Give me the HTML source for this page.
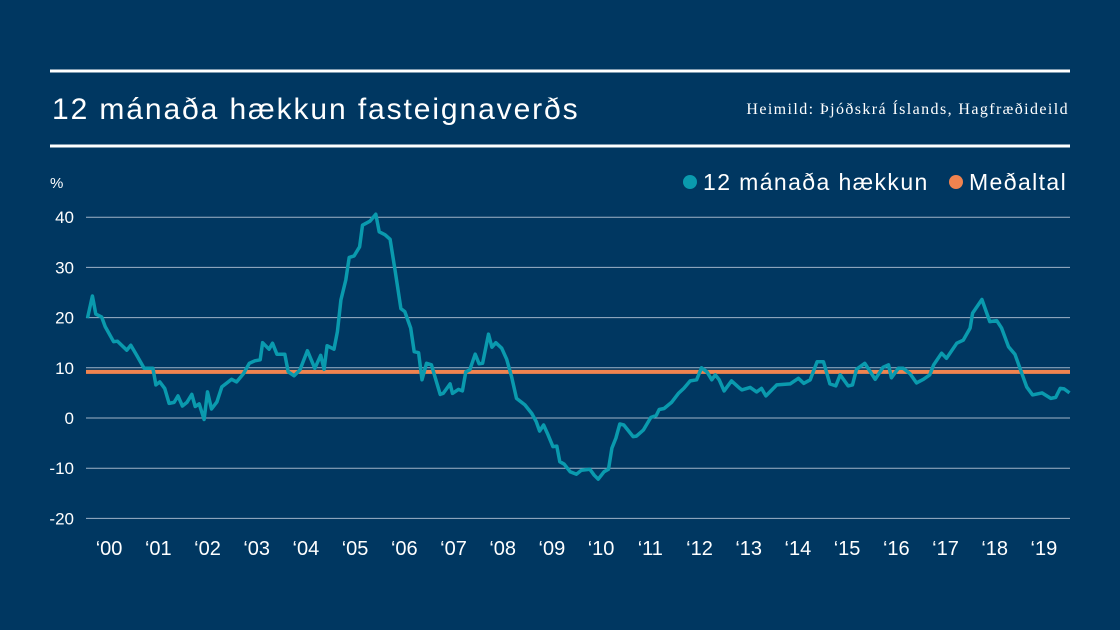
<!DOCTYPE html>
<html><head><meta charset="utf-8"><style>
html,body{margin:0;padding:0;background:#003761;}
svg{display:block}
</style></head><body>
<svg width="1120" height="630" viewBox="0 0 1120 630" font-family="'Liberation Sans', sans-serif">
<rect x="0" y="0" width="1120" height="630" fill="#003761"/>
<line x1="50" y1="71" x2="1070" y2="71" stroke="#fff" stroke-width="3"/>
<line x1="50" y1="146" x2="1070" y2="146" stroke="#fff" stroke-width="3"/>
<text x="52" y="119" fill="#fff" font-size="30" letter-spacing="1.9">12 mánaða hækkun fasteignaverðs</text>
<text x="1069" y="114" fill="#fff" font-size="16" letter-spacing="1.4" text-anchor="end" font-family="'Liberation Serif', serif">Heimild: Þjóðskrá Íslands, Hagfræðideild</text>
<text x="50" y="188" fill="#fff" font-size="15">%</text>
<g>
<circle cx="690" cy="182" r="7" fill="#0a9aae"/>
<text x="703" y="190" fill="#fff" font-size="23" letter-spacing="1.4">12 mánaða hækkun</text>
<circle cx="956" cy="182" r="7" fill="#f0834f"/>
<text x="969" y="190" fill="#fff" font-size="23" letter-spacing="1.4">Meðaltal</text>
</g>
<g id="grid"></g><g id="ylab"></g><g id="xlab"></g><g id="series"></g>
</svg>
<script>
const yTicks=[40,30,20,10,0,-10,-20];
const xTickLabels=["‘00","‘01","‘02","‘03","‘04","‘05","‘06","‘07","‘08","‘09","‘10","‘11","‘12","‘13","‘14","‘15","‘16","‘17","‘18","‘19"];
const meanValue=9.2;
const dates=[2000.03,2000.13,2000.2,2000.32,2000.39,2000.56,2000.64,2000.83,2000.91,2001.03,2001.18,2001.36,2001.42,2001.5,2001.6,2001.69,2001.79,2001.87,2001.96,2002.05,2002.15,2002.22,2002.3,2002.4,2002.47,2002.55,2002.66,2002.76,2002.96,2003.06,2003.2,2003.32,2003.43,2003.54,2003.59,2003.72,2003.79,2003.88,2004.04,2004.11,2004.23,2004.35,2004.5,2004.65,2004.77,2004.84,2004.9,2005.04,2005.11,2005.18,2005.28,2005.35,2005.45,2005.56,2005.62,2005.77,2005.89,2005.96,2006.08,2006.18,2006.28,2006.4,2006.48,2006.6,2006.67,2006.76,2006.83,2006.92,2007.02,2007.2,2007.26,2007.4,2007.45,2007.57,2007.65,2007.72,2007.8,2007.91,2007.99,2008.06,2008.18,2008.25,2008.33,2008.45,2008.55,2008.65,2008.75,2008.92,2009.06,2009.15,2009.22,2009.3,2009.38,2009.49,2009.57,2009.63,2009.72,2009.84,2009.97,2010.07,2010.24,2010.33,2010.41,2010.53,2010.62,2010.69,2010.77,2010.85,2010.93,2011.12,2011.19,2011.33,2011.48,2011.59,2011.65,2011.75,2011.9,2012.04,2012.15,2012.28,2012.41,2012.51,2012.62,2012.72,2012.79,2012.87,2012.97,2013.12,2013.29,2013.33,2013.5,2013.63,2013.73,2013.82,2014.04,2014.31,2014.48,2014.59,2014.72,2014.86,2014.99,2015.12,2015.24,2015.33,2015.49,2015.58,2015.66,2015.83,2016.04,2016.2,2016.31,2016.37,2016.51,2016.61,2016.75,2016.88,2017.02,2017.15,2017.23,2017.39,2017.49,2017.7,2017.83,2017.97,2018.02,2018.21,2018.37,2018.51,2018.61,2018.75,2018.88,2019.02,2019.12,2019.24,2019.43,2019.61,2019.71,2019.8,2019.88,2019.99];
const values=[19.9,24.3,20.7,20.1,18.2,15.2,15.3,13.5,14.5,12.5,9.9,9.9,6.6,7.2,5.9,2.9,3.1,4.4,2.4,3.1,4.7,2.3,2.8,-0.3,5.2,1.8,3.2,6.2,7.7,7.2,8.8,10.9,11.4,11.6,15.0,13.7,14.9,12.7,12.7,9.2,8.4,9.6,13.4,9.9,12.5,9.7,14.4,13.7,17.2,23.5,27.5,32.0,32.3,34.1,38.4,39.2,40.6,37.1,36.5,35.6,29.5,21.8,21.2,17.9,13.2,13.0,7.6,10.9,10.6,4.7,4.9,6.8,4.9,5.7,5.4,9.2,9.6,12.7,10.8,10.9,16.7,14.1,15.0,13.9,11.7,8.2,3.9,2.6,0.9,-0.7,-2.6,-1.4,-3.1,-5.7,-5.6,-8.7,-9.2,-10.7,-11.2,-10.4,-10.2,-11.4,-12.2,-10.7,-10.2,-6.0,-4.0,-1.2,-1.4,-3.7,-3.6,-2.4,0.1,0.5,1.7,1.9,3.1,4.9,5.9,7.4,7.6,10.0,9.2,7.6,8.6,7.6,5.4,7.4,5.9,5.6,6.1,5.2,5.9,4.4,6.6,6.8,7.9,6.9,7.6,11.2,11.2,6.8,6.4,8.6,6.4,6.6,9.7,10.9,7.7,10.1,10.6,8.0,9.9,9.9,8.8,7.0,7.7,8.6,10.6,12.9,11.9,14.9,15.5,17.9,20.9,23.6,19.2,19.4,17.9,14.2,12.7,8.9,6.2,4.6,5.0,3.9,4.1,5.9,5.8,5.0];
const NS='http://www.w3.org/2000/svg';
const X0=86,X1=1070,YR=49.2;
function xs(t){return X0+(t-2000)*YR;}
function ys(v){return 418-v*5.02;}
function mk(tag,parent,attrs){const e=document.createElementNS(NS,tag);for(const k in attrs)e.setAttribute(k,attrs[k]);parent.appendChild(e);return e;}
const grid=document.getElementById('grid'),ylab=document.getElementById('ylab'),xlab=document.getElementById('xlab'),series=document.getElementById('series');
yTicks.forEach(v=>{
 const l=mk('line',grid,{x1:X0,x2:X1,y1:ys(v),y2:ys(v),stroke:'#9fb3c8','stroke-width':1});
 
 
 const t=mk('text',ylab,{x:74,y:ys(v)+6,fill:'#fff','font-size':17,'text-anchor':'end'});
 t.textContent=v;
 
 
});
xTickLabels.forEach((s,i)=>{
 const t=mk('text',xlab,{x:xs(2000+i+0.5)-1.5,y:555,fill:'#fff','font-size':20,'text-anchor':'middle'});
 t.textContent=s;
 
 
});
const mean=mk('line',series,{x1:X0,x2:X1,y1:ys(meanValue),y2:ys(meanValue),stroke:'#f0834f','stroke-width':4});


const d=dates.map((t,i)=>(i?'L':'M')+xs(t).toFixed(1)+' '+ys(values[i]).toFixed(1)).join(' ');
const p=mk('path',series,{d:d,fill:'none',stroke:'#0a9aae','stroke-width':3.5,'stroke-linejoin':'round'});


</script>
</body></html>
